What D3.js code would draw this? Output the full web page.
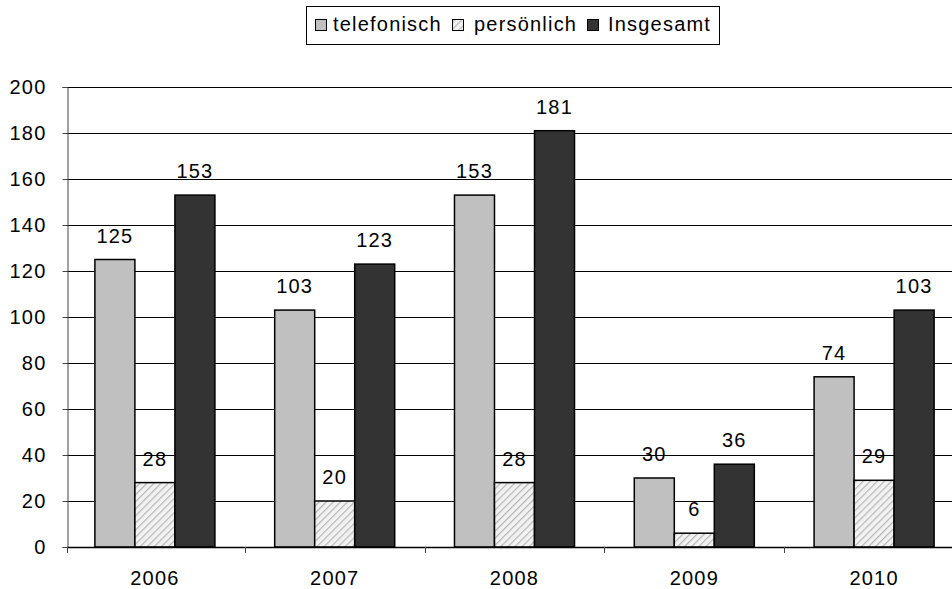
<!DOCTYPE html>
<html>
<head>
<meta charset="utf-8">
<script src="https://cdn.jsdelivr.net/npm/d3@7"></script>
<style>
  body { margin: 0; background: #fff; }
  svg { display: block; font-family: "Liberation Sans", Arial, sans-serif; }
</style>
</head>
<body>
<div id="chart"></div>
<script>
const years = ['2006', '2007', '2008', '2009', '2010']
const series = ['telefonisch', 'persönlich', 'Insgesamt']
const telefonisch = [125, 103, 153, 30, 74]
const persoenlich = [28, 20, 28, 6, 29]
const insgesamt = [153, 123, 181, 36, 103]
const yTicks = [0, 20, 40, 60, 80, 100, 120, 140, 160, 180, 200]

const w = 952
const h = 589
const plotLeft = 67, plotTop = 87, plotBottom = 547
const bandLeft = 65, bandRight = 964
const fontSize = '20px', spacing = '1.2px'

const values = [telefonisch, persoenlich, insgesamt]
const fills = ['#c0c0c0', 'url(#hatch)', '#333333']

const svg = d3.select('#chart').append('svg')
    .attr('width', w)
    .attr('height', h)

// hatch pattern for persönlich
const pat = svg.append('defs').append('pattern')
    .attr('id', 'hatch')
    .attr('patternUnits', 'userSpaceOnUse')
    .attr('width', 5)
    .attr('height', 5)
    .attr('patternTransform', 'rotate(45)')
pat.append('rect').attr('width', 5).attr('height', 5).attr('fill', '#f2f2f2')
pat.append('line')
    .attr('x1', 0).attr('y1', 0).attr('x2', 0).attr('y2', 5)
    .attr('stroke', '#b8b8b8').attr('stroke-width', 2.5)

const xScale = d3.scaleBand()
    .domain(years)
    .range([bandLeft, bandRight])

const x1 = d3.scaleBand()
    .domain(series)
    .range([0, xScale.bandwidth()])
    .paddingOuter(0.747)

const yScale = d3.scaleLinear()
    .domain([0, 200])
    .range([plotBottom, plotTop])

// gridlines
svg.append('g')
    .selectAll('line')
    .data(yTicks.filter(d => d > 0))
    .enter()
    .append('line')
    .attr('x1', plotLeft)
    .attr('x2', w)
    .attr('y1', d => Math.round(yScale(d)) + 0.5)
    .attr('y2', d => Math.round(yScale(d)) + 0.5)
    .attr('stroke', '#000')
    .attr('stroke-width', 1)

// y axis
const yAxis = svg.append('g')
    .attr('transform', 'translate(' + (plotLeft + 0.5) + ',0)')
    .call(d3.axisLeft(yScale).tickValues(yTicks).tickSize(5).tickPadding(16))
yAxis.select('.domain').attr('stroke', '#444')
yAxis.selectAll('.tick line').attr('stroke', '#444')
yAxis.selectAll('text')
    .attr('font-size', fontSize)
    .attr('letter-spacing', spacing)
    .attr('font-family', '"Liberation Sans", Arial, sans-serif')
    .attr('fill', '#000')

// bars
series.forEach(function(s, si){
    svg.append('g')
        .selectAll('rect')
        .data(values[si])
        .enter()
        .append('rect')
        .attr('x', (d, i) => xScale(years[i]) + x1(s))
        .attr('y', d => yScale(d))
        .attr('width', x1.bandwidth())
        .attr('height', d => plotBottom - yScale(d))
        .attr('fill', fills[si])
        .attr('stroke', '#000')
        .attr('stroke-width', 1.5)

    svg.append('g')
        .selectAll('text')
        .data(values[si])
        .enter()
        .append('text')
        .text(d => d)
        .attr('text-anchor', 'middle')
        .attr('x', (d, i) => xScale(years[i]) + x1(s) + x1.bandwidth() / 2)
        .attr('y', d => yScale(d) - 17)
        .attr('font-size', fontSize)
        .attr('letter-spacing', spacing)
        .attr('fill', '#000')
})

// x axis
const xAxis = svg.append('g')
    .attr('transform', 'translate(0,' + (plotBottom + 0.5) + ')')
    .call(d3.axisBottom(xScale).tickSize(0).tickPadding(23))
xAxis.select('.domain').remove()
xAxis.selectAll('text')
    .attr('font-size', fontSize)
    .attr('letter-spacing', spacing)
    .attr('font-family', '"Liberation Sans", Arial, sans-serif')
    .attr('fill', '#000')
svg.append('line')
    .attr('x1', plotLeft).attr('x2', w)
    .attr('y1', plotBottom + 0.5).attr('y2', plotBottom + 0.5)
    .attr('stroke', '#000').attr('stroke-width', 1.5)
svg.append('g')
    .selectAll('line')
    .data(years.slice(1))
    .enter()
    .append('line')
    .attr('x1', d => Math.round(xScale(d)) + 0.5)
    .attr('x2', d => Math.round(xScale(d)) + 0.5)
    .attr('y1', plotBottom)
    .attr('y2', plotBottom + 6)
    .attr('stroke', '#444')
svg.append('line')
    .attr('x1', plotLeft + 0.5).attr('x2', plotLeft + 0.5)
    .attr('y1', plotBottom).attr('y2', plotBottom + 6)
    .attr('stroke', '#444')

// legend
const legend = svg.append('g')
legend.append('rect')
    .attr('x', 306.5).attr('y', 6.5)
    .attr('width', 413).attr('height', 38)
    .attr('fill', '#fff')
    .attr('stroke', '#000')
    .attr('stroke-width', 1)
const legSwatchX = [315, 452, 587]
const legTextX = [333, 474, 608]
series.forEach(function(s, si){
    legend.append('rect')
        .attr('x', legSwatchX[si] + 0.5).attr('y', 19.5)
        .attr('width', 11).attr('height', 11)
        .attr('fill', fills[si])
        .attr('stroke', '#000')
        .attr('stroke-width', 1)
    legend.append('text')
        .attr('x', legTextX[si])
        .attr('y', 31)
        .attr('font-size', fontSize)
        .attr('letter-spacing', spacing)
        .attr('fill', '#000')
        .text(s)
})
</script>
</body>
</html>
